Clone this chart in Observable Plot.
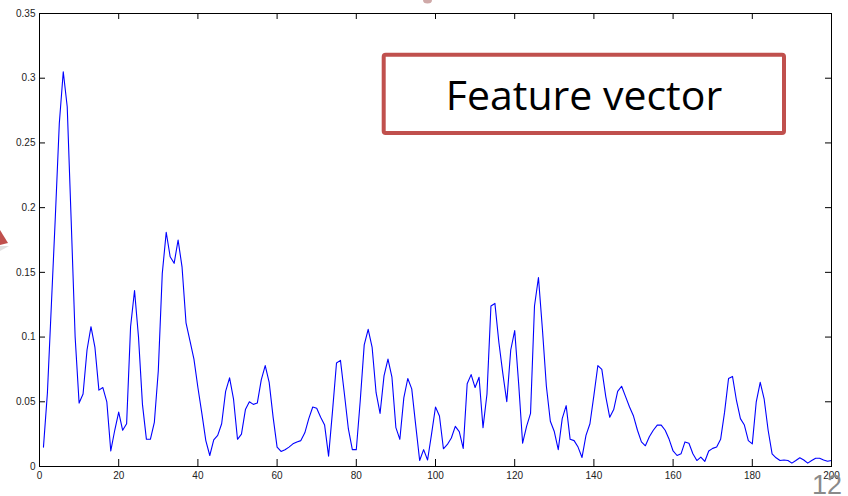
<!DOCTYPE html>
<html>
<head>
<meta charset="utf-8">
<script src="https://cdn.jsdelivr.net/npm/d3@7"></script>
<script src="https://cdn.jsdelivr.net/npm/@observablehq/plot@0.6"></script>
<style>
  body { margin: 0; background: #fff; }
  #wrap { position: relative; width: 848px; height: 496px; overflow: hidden; background: #fff; }
  #wrap > svg.overlay { position: absolute; left: 0; top: 0; pointer-events: none; }
</style>
</head>
<body>
<div id="wrap"></div>
<script>
// Feature vector values, sample index 1..200
const values = [
  0.015, 0.057, 0.125, 0.193, 0.265, 0.305, 0.278, 0.19, 0.10, 0.049,
  0.056, 0.09, 0.108, 0.092, 0.059, 0.061, 0.05, 0.012, 0.028, 0.042,
  0.028, 0.033, 0.108, 0.136, 0.10, 0.048, 0.021, 0.021, 0.034, 0.074,
  0.149, 0.181, 0.162, 0.157, 0.175, 0.154, 0.111, 0.097, 0.083, 0.061,
  0.041, 0.020, 0.0085, 0.0206, 0.024, 0.033, 0.058, 0.0685, 0.052, 0.021,
  0.025, 0.044, 0.050, 0.048, 0.049, 0.067, 0.078, 0.065, 0.038, 0.015,
  0.0116, 0.013, 0.015, 0.0175, 0.019, 0.020, 0.026, 0.037, 0.046, 0.045,
  0.038, 0.032, 0.008, 0.043, 0.080, 0.082, 0.056, 0.029, 0.013, 0.013,
  0.051, 0.094, 0.106, 0.092, 0.057, 0.041, 0.070, 0.083, 0.069, 0.030,
  0.021, 0.053, 0.068, 0.060, 0.032, 0.0046, 0.013, 0.005, 0.025, 0.046,
  0.039, 0.0137, 0.017, 0.022, 0.031, 0.027, 0.014, 0.064, 0.071, 0.061,
  0.069, 0.030, 0.056, 0.124, 0.126, 0.096, 0.072, 0.050, 0.090, 0.105,
  0.064, 0.018, 0.031, 0.041, 0.124, 0.146, 0.106, 0.062, 0.035, 0.027,
  0.013, 0.037, 0.047, 0.021, 0.020, 0.015, 0.007, 0.024, 0.033, 0.055,
  0.078, 0.075, 0.054, 0.038, 0.044, 0.058, 0.062, 0.054, 0.046, 0.039,
  0.028, 0.019, 0.016, 0.023, 0.028, 0.032, 0.032, 0.028, 0.021, 0.012,
  0.0085, 0.0098, 0.019, 0.018, 0.0098, 0.0046, 0.0072, 0.0039, 0.012, 0.014,
  0.015, 0.021, 0.042, 0.068, 0.0696, 0.051, 0.037, 0.032, 0.020, 0.0175,
  0.050, 0.065, 0.052, 0.028, 0.0098, 0.0067, 0.0046, 0.005, 0.0046, 0.0026,
  0.0046, 0.0067, 0.005, 0.0026, 0.0046, 0.0064, 0.0064, 0.005, 0.004, 0.0046
];
const xTicks = [0, 20, 40, 60, 80, 100, 120, 140, 160, 180, 200];
const xTickLabels = ["0", "20", "40", "60", "80", "100", "120", "140", "160", "180", "200"];
const yTicks = [0, 0.05, 0.1, 0.15, 0.2, 0.25, 0.3, 0.35];
const yTickLabels = ["0", "0.05", "0.1", "0.15", "0.2", "0.25", "0.3", "0.35"];
const boxLabel = "Feature vector";
const slideNumber = "12";

const W = 848, H = 496;
const mL = 39, mR = 17, mT = 13, mB = 30;
const innerW = W - mL - mR, innerH = H - mT - mB;
const tickLen = 6;

const rows = values.map((v, i) => ({idx: i + 1, v}));

const chart = Plot.plot({
  width: W, height: H,
  marginLeft: mL, marginRight: mR, marginTop: mT, marginBottom: mB,
  style: {fontFamily: "'Liberation Sans', Arial, sans-serif", fontSize: "10px", color: "#222", background: "#fff"},
  x: {domain: [0, 200]},
  y: {domain: [0, 0.35]},
  marks: [
    Plot.line(rows, {x: "idx", y: "v", stroke: "#0000ff", strokeWidth: 1.1}),
    Plot.frame({stroke: "#000", strokeWidth: 1}),
    Plot.tickX(xTicks, {x: d => d, insetTop: innerH - tickLen - 1, stroke: "#000"}),
    Plot.tickX(xTicks, {x: d => d, insetBottom: innerH - tickLen, stroke: "#000"}),
    Plot.tickY(yTicks, {y: d => d, insetRight: innerW - tickLen, stroke: "#000"}),
    Plot.tickY(yTicks, {y: d => d, insetLeft: innerW - tickLen, stroke: "#000"}),
    Plot.axisX({ticks: xTicks, tickSize: 0, tickPadding: 5, label: null,
      tickFormat: d => xTickLabels[xTicks.indexOf(d)]}),
    Plot.axisY({ticks: yTicks, tickSize: 0, tickPadding: 4, label: null,
      tickFormat: d => yTickLabels[yTicks.indexOf(d)]})
  ]
});

const wrap = document.getElementById("wrap");
wrap.appendChild(chart);

// Slide annotations overlay
const ns = "http://www.w3.org/2000/svg";
const ov = d3.select(wrap).append("svg").attr("class", "overlay")
  .attr("width", W).attr("height", H).attr("xmlns", ns);

// arrow tip fragment at left edge
ov.append("polygon").attr("points", "0,246 9,246 0,251").attr("fill", "#d9d9d9").attr("opacity", 0.8);
ov.append("polygon").attr("points", "0,230 8,243 0,245").attr("fill", "#C0504D");
// small fragment at top
ov.append("ellipse").attr("cx", 427.5).attr("cy", 0).attr("rx", 4.5).attr("ry", 3.5).attr("fill", "#cfa9a8");

// Feature vector box
ov.append("rect").attr("x", 383.7).attr("y", 54.7).attr("width", 400.3).attr("height", 78.3)
  .attr("rx", 2).attr("fill", "#fff").attr("stroke", "#C0504D").attr("stroke-width", 4);
ov.append("text").attr("x", 584).attr("y", 110).attr("text-anchor", "middle")
  .attr("font-family", "'Open Sans', 'Noto Sans', sans-serif").attr("font-size", 41)
  .attr("fill", "#000").text(boxLabel);

// slide number
ov.append("text").attr("x", 812).attr("y", 494)
  .attr("font-family", "'Liberation Sans', Arial, sans-serif").attr("font-size", 27)
  .attr("fill", "#8a8a8a").text(slideNumber);
</script>
</body>
</html>
